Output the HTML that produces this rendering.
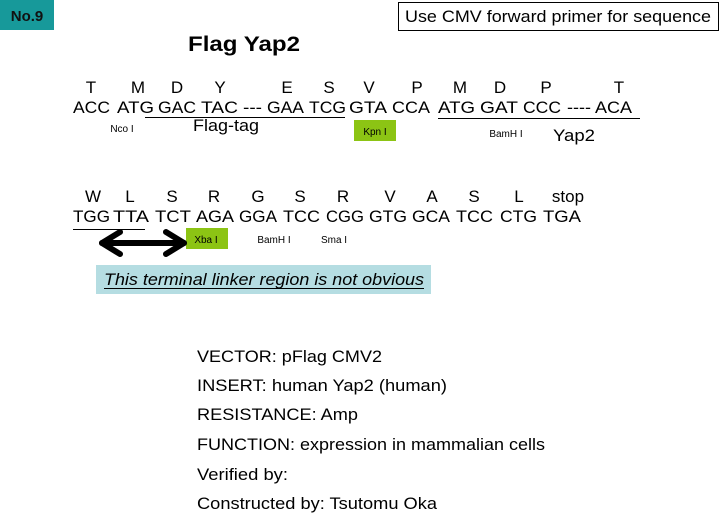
<!DOCTYPE html>
<html><head><style>html,body{margin:0;padding:0;background:#fff}svg{font-family:"Liberation Sans",Arial,sans-serif}</style></head>
<body>
<svg width="720" height="520" viewBox="0 0 720 520" xmlns="http://www.w3.org/2000/svg">
<rect x="0" y="0" width="54" height="30" fill="#17999a"/>
<text x="27" y="21" font-size="15" font-weight="bold" text-anchor="middle" fill="#111">No.9</text>
<rect x="398.5" y="2.5" width="320" height="28" fill="#fff" stroke="#000" stroke-width="1"/>
<text x="405" y="22" font-size="17" textLength="306" lengthAdjust="spacingAndGlyphs">Use CMV forward primer for sequence</text>
<text x="188" y="51" font-size="21" font-weight="bold" textLength="112" lengthAdjust="spacingAndGlyphs">Flag Yap2</text>

<g font-size="17" text-anchor="middle">
<text x="91" y="93">T</text><text x="138" y="93">M</text><text x="177" y="93">D</text><text x="220" y="93">Y</text>
<text x="287" y="93">E</text><text x="329" y="93">S</text><text x="369" y="93">V</text><text x="417" y="93">P</text>
<text x="460" y="93">M</text><text x="500" y="93">D</text><text x="546" y="93">P</text><text x="619" y="93">T</text>
<text x="93" y="202">W</text><text x="130" y="202">L</text><text x="172" y="202">S</text><text x="214" y="202">R</text>
<text x="258" y="202">G</text><text x="300" y="202">S</text><text x="343" y="202">R</text><text x="390" y="202">V</text>
<text x="432" y="202">A</text><text x="474" y="202">S</text><text x="519" y="202">L</text><text x="568" y="202">stop</text>
</g>
<g font-size="17">
<text x="73" y="113" textLength="37" lengthAdjust="spacingAndGlyphs">ACC</text>
<text x="117" y="113" textLength="37" lengthAdjust="spacingAndGlyphs">ATG</text>
<text x="158" y="113" textLength="38" lengthAdjust="spacingAndGlyphs">GAC</text>
<text x="201" y="113" textLength="37" lengthAdjust="spacingAndGlyphs">TAC</text>
<text x="243" y="113" textLength="19" lengthAdjust="spacingAndGlyphs">---</text>
<text x="267" y="113" textLength="37" lengthAdjust="spacingAndGlyphs">GAA</text>
<text x="309" y="113" textLength="37" lengthAdjust="spacingAndGlyphs">TCG</text>
<text x="349" y="113" textLength="38" lengthAdjust="spacingAndGlyphs">GTA</text>
<text x="392" y="113" textLength="38" lengthAdjust="spacingAndGlyphs">CCA</text>
<text x="438" y="113" textLength="37" lengthAdjust="spacingAndGlyphs">ATG</text>
<text x="480" y="113" textLength="38" lengthAdjust="spacingAndGlyphs">GAT</text>
<text x="523" y="113" textLength="38" lengthAdjust="spacingAndGlyphs">CCC</text>
<text x="567" y="113" textLength="24" lengthAdjust="spacingAndGlyphs">----</text>
<text x="595" y="113" textLength="37" lengthAdjust="spacingAndGlyphs">ACA</text>

<text x="73" y="222" textLength="37" lengthAdjust="spacingAndGlyphs">TGG</text>
<text x="113" y="222" textLength="36" lengthAdjust="spacingAndGlyphs">TTA</text>
<text x="155" y="222" textLength="36" lengthAdjust="spacingAndGlyphs">TCT</text>
<text x="196" y="222" textLength="38" lengthAdjust="spacingAndGlyphs">AGA</text>
<text x="239" y="222" textLength="38" lengthAdjust="spacingAndGlyphs">GGA</text>
<text x="283" y="222" textLength="37" lengthAdjust="spacingAndGlyphs">TCC</text>
<text x="326" y="222" textLength="38" lengthAdjust="spacingAndGlyphs">CGG</text>
<text x="369" y="222" textLength="38" lengthAdjust="spacingAndGlyphs">GTG</text>
<text x="412" y="222" textLength="38" lengthAdjust="spacingAndGlyphs">GCA</text>
<text x="456" y="222" textLength="37" lengthAdjust="spacingAndGlyphs">TCC</text>
<text x="500" y="222" textLength="37" lengthAdjust="spacingAndGlyphs">CTG</text>
<text x="543" y="222" textLength="38" lengthAdjust="spacingAndGlyphs">TGA</text>
</g>

<line x1="145" y1="117.5" x2="345" y2="117.5" stroke="#000"/>
<line x1="438" y1="118.5" x2="640" y2="118.5" stroke="#000"/>
<line x1="73" y1="229.5" x2="145" y2="229.5" stroke="#000"/>

<text x="122" y="132" font-size="10" text-anchor="middle">Nco I</text>
<text x="193" y="131" font-size="17" textLength="66" lengthAdjust="spacingAndGlyphs">Flag-tag</text>
<rect x="354" y="120" width="42" height="21" fill="#8cc414"/>
<text x="375" y="135" font-size="10" text-anchor="middle">Kpn I</text>
<text x="506" y="137" font-size="10" text-anchor="middle">BamH I</text>
<text x="553" y="141" font-size="17" textLength="42" lengthAdjust="spacingAndGlyphs">Yap2</text>

<rect x="186" y="228" width="42" height="21" fill="#8cc414"/>
<text x="206" y="243" font-size="10" text-anchor="middle">Xba I</text>
<text x="274" y="243" font-size="10" text-anchor="middle">BamH I</text>
<text x="334" y="243" font-size="10" text-anchor="middle">Sma I</text>

<g stroke="#000" stroke-width="6" fill="none" stroke-linecap="round" stroke-linejoin="round">
<line x1="102" y1="243" x2="184" y2="243"/>
<polyline points="120,232 102,243 120,254"/>
<polyline points="166,232 184,243 166,254"/>
</g>

<rect x="96" y="265" width="335" height="29" fill="#b5dde2"/>
<text x="104" y="285" font-size="17" font-style="italic" textLength="320" lengthAdjust="spacingAndGlyphs">This terminal linker region is not obvious</text>
<line x1="104" y1="288.5" x2="424" y2="288.5" stroke="#000"/>

<g font-size="17">
<text x="197" y="362" textLength="185" lengthAdjust="spacingAndGlyphs">VECTOR: pFlag CMV2</text>
<text x="197" y="391" textLength="250" lengthAdjust="spacingAndGlyphs">INSERT: human Yap2 (human)</text>
<text x="197" y="420" textLength="161" lengthAdjust="spacingAndGlyphs">RESISTANCE: Amp</text>
<text x="197" y="450" textLength="348" lengthAdjust="spacingAndGlyphs">FUNCTION: expression in mammalian cells</text>
<text x="197" y="480" textLength="91" lengthAdjust="spacingAndGlyphs">Verified by:</text>
<text x="197" y="509" textLength="240" lengthAdjust="spacingAndGlyphs">Constructed by: Tsutomu Oka</text>
</g>
</svg>
</body></html>
